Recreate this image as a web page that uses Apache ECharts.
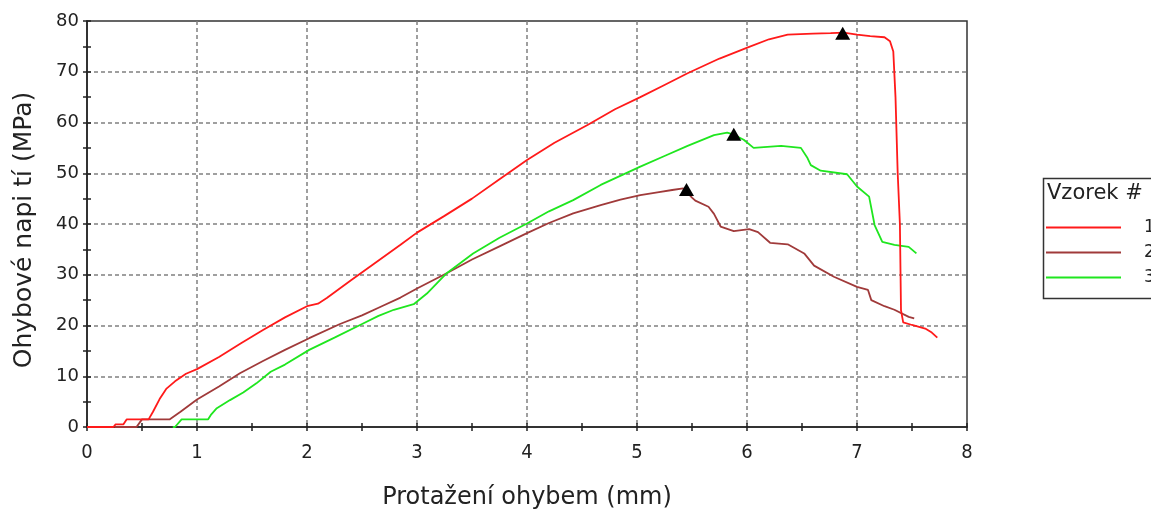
<!DOCTYPE html>
<html>
<head>
<meta charset="utf-8">
<script src="https://cdn.jsdelivr.net/npm/echarts@6/dist/echarts.min.js"></script>
<style>
  html, body { margin: 0; padding: 0; background: #fff; }
  #main { width: 1151px; height: 511px; }
</style>
</head>
<body>
<div id="main"></div>
<script>
// vzorek 1 (red)
var sample1 = [
  [0, 0], [0.24, 0], [0.26, 0.5], [0.33, 0.5], [0.36, 1.5], [0.56, 1.5], [0.6, 3],
  [0.66, 5.5], [0.72, 7.5], [0.8, 9], [0.9, 10.5], [1.0, 11.4], [1.2, 13.8], [1.4, 16.5],
  [1.6, 19.1], [1.8, 21.6], [2.0, 23.8], [2.1, 24.3], [2.18, 25.4], [2.4, 28.9], [2.6, 32],
  [2.85, 35.9], [3.0, 38.3], [3.25, 41.6], [3.5, 45], [3.75, 48.8], [4.0, 52.6], [4.25, 56],
  [4.55, 59.5], [4.8, 62.6], [5.03, 65], [5.25, 67.4], [5.46, 69.7], [5.75, 72.6], [6.02, 74.9],
  [6.2, 76.4], [6.37, 77.3], [6.6, 77.5], [6.76, 77.6], [6.88, 77.7], [7.0, 77.3], [7.12, 77.0],
  [7.25, 76.8], [7.3, 76], [7.33, 74], [7.35, 65], [7.37, 50], [7.39, 40], [7.40, 23],
  [7.42, 20.6], [7.5, 20.1], [7.62, 19.4], [7.68, 18.6], [7.73, 17.6]
];
// vzorek 2 (brown)
var sample2 = [
  [0.25, 0], [0.45, 0], [0.5, 1.5], [0.75, 1.5], [0.85, 3], [1.0, 5.4], [1.2, 8], [1.39, 10.6],
  [1.6, 13], [1.8, 15.2], [2.02, 17.5], [2.3, 20.3], [2.5, 22], [2.67, 23.7], [2.85, 25.5],
  [3.0, 27.3], [3.27, 30.3], [3.5, 33], [3.75, 35.6], [4.0, 38.2], [4.2, 40.2], [4.42, 42.1],
  [4.67, 43.7], [4.85, 44.8], [5.03, 45.7], [5.2, 46.3], [5.32, 46.7], [5.42, 47.0], [5.5, 45.2],
  [5.53, 44.6], [5.65, 43.4], [5.7, 42], [5.76, 39.5], [5.88, 38.6], [6.02, 39.0], [6.1, 38.4],
  [6.21, 36.3], [6.37, 36.0], [6.52, 34.2], [6.61, 31.8], [6.79, 29.6], [7.0, 27.6], [7.1, 27.0],
  [7.13, 25.0], [7.25, 23.8], [7.34, 23.1], [7.47, 21.7], [7.52, 21.4]
];
// vzorek 3 (green)
var sample3 = [
  [0.78, 0], [0.8, 0], [0.86, 1.5], [1.1, 1.5], [1.13, 2.5], [1.18, 3.7], [1.3, 5.3], [1.42, 6.8],
  [1.54, 8.6], [1.67, 10.9], [1.8, 12.3], [2.02, 15.2], [2.25, 17.6], [2.51, 20.4], [2.65, 21.9],
  [2.79, 23.1], [2.97, 24.2], [3.09, 26.3], [3.27, 30.3], [3.51, 34.2], [3.75, 37.3], [4.0, 40.1],
  [4.2, 42.5], [4.42, 44.7], [4.67, 47.7], [5.03, 51.3], [5.25, 53.4], [5.46, 55.4], [5.7, 57.5],
  [5.82, 58.0], [5.88, 57.6], [5.97, 56.6], [6.06, 55.0], [6.31, 55.4], [6.49, 55.0], [6.55, 53],
  [6.58, 51.6], [6.67, 50.5], [6.91, 49.8], [7.0, 47.4], [7.11, 45.4], [7.16, 39.8], [7.23, 36.5],
  [7.34, 35.9], [7.47, 35.5], [7.54, 34.2]
];
// maxima (triangles)
var peaks = [[6.87, 77.6], [5.88, 57.7], [5.45, 46.8]];
var sampleNames = ['1', '2', '3'];
var sampleColors = ['#ff1a1a', '#a03a3a', '#1fe61f'];

var myChart = echarts.init(document.getElementById('main'));
var option;

var tickFont = { fontFamily: 'DejaVu Sans', fontSize: 18, color: '#222' };

option = {
  animation: false,
  backgroundColor: '#fff',
  grid: {
    left: 87, top: 21, right: 184, bottom: 84,
    outerBoundsMode: 'none',
    show: true, borderColor: '#333', borderWidth: 1.5
  },
  xAxis: [
    {
      type: 'value', min: 0, max: 8, interval: 1,
      name: 'Protažení ohybem (mm)', nameLocation: 'middle', nameGap: 59,
      nameTextStyle: { fontFamily: 'DejaVu Sans', fontSize: 24, color: '#222' },
      axisLine: { lineStyle: { color: '#222', width: 1.5 } },
      axisTick: { length: 4, lineStyle: { color: '#222', width: 1.5 } },
      minorTick: { show: true, splitNumber: 2, length: 4, lineStyle: { color: '#222', width: 1.5 } },
      axisLabel: { margin: 16, fontFamily: 'DejaVu Sans Condensed', fontSize: 20, color: '#222' },
      splitLine: { show: true, showMinLine: false, showMaxLine: false,
        lineStyle: { color: '#808080', width: 1.5, type: [4, 3] } }
    },
    {
      type: 'value', min: 0, max: 8, interval: 1, position: 'bottom', offset: 0,
      axisLine: { show: false },
      axisTick: { inside: true, length: 4, lineStyle: { color: '#222', width: 1.5 } },
      minorTick: { show: true, splitNumber: 2, length: 4, lineStyle: { color: '#222', width: 1.5 } },
      axisLabel: { show: false },
      splitLine: { show: false }
    }
  ],
  yAxis: [
    {
      type: 'value', min: 0, max: 80, interval: 10,
      name: 'Ohybové napi tí (MPa)', nameLocation: 'middle', nameGap: 50,
      nameTextStyle: { fontFamily: 'DejaVu Sans', fontSize: 25, color: '#222', padding: [0, 12, 0, 0] },
      axisLine: { show: true, lineStyle: { color: '#222', width: 1.5 } },
      axisTick: { show: true, length: 4, lineStyle: { color: '#222', width: 1.5 } },
      minorTick: { show: true, splitNumber: 2, length: 4, lineStyle: { color: '#222', width: 1.5 } },
      axisLabel: Object.assign({ margin: 8 }, tickFont),
      splitLine: { show: true, showMinLine: false, showMaxLine: false,
        lineStyle: { color: '#808080', width: 1.5, type: [4, 3] } }
    },
    {
      type: 'value', min: 0, max: 80, interval: 10, position: 'left', offset: 0,
      axisLine: { show: false },
      axisTick: { show: true, inside: true, length: 4, lineStyle: { color: '#222', width: 1.5 } },
      minorTick: { show: true, splitNumber: 2, length: 4, lineStyle: { color: '#222', width: 1.5 } },
      axisLabel: { show: false },
      splitLine: { show: false }
    }
  ],
  legend: {
    data: sampleNames,
    orient: 'vertical',
    left: 1046, top: 219,
    padding: 0,
    icon: 'rect',
    itemWidth: 75, itemHeight: 2, itemGap: 8,
    textStyle: { fontFamily: 'DejaVu Sans', fontSize: 17, lineHeight: 17, color: '#222', padding: [0, 0, 0, 18] }
  },
  graphic: [
    {
      type: 'rect', left: 1041, top: 176,
      shape: { width: 140, height: 120 },
      style: { fill: 'none', stroke: '#333', lineWidth: 1.5 }
    },
    {
      type: 'text', left: 1047, top: 183,
      style: { text: 'Vzorek #', font: '21px "DejaVu Sans"', fill: '#222' }
    }
  ],
  series: [
    {
      name: sampleNames[1], type: 'line', data: sample2, symbol: 'none',
      lineStyle: { color: sampleColors[1], width: 1.8 }, itemStyle: { color: sampleColors[1] }
    },
    {
      name: sampleNames[2], type: 'line', data: sample3, symbol: 'none',
      lineStyle: { color: sampleColors[2], width: 1.8 }, itemStyle: { color: sampleColors[2] }
    },
    {
      name: sampleNames[0], type: 'line', data: sample1, symbol: 'none',
      lineStyle: { color: sampleColors[0], width: 1.8 }, itemStyle: { color: sampleColors[0] }
    },
    {
      name: 'max', type: 'scatter', data: peaks, symbol: 'triangle', symbolSize: [15, 13],
      itemStyle: { color: '#000', opacity: 1 }, z: 5
    }
  ]
};

option && myChart.setOption(option);
</script>
</body>
</html>
